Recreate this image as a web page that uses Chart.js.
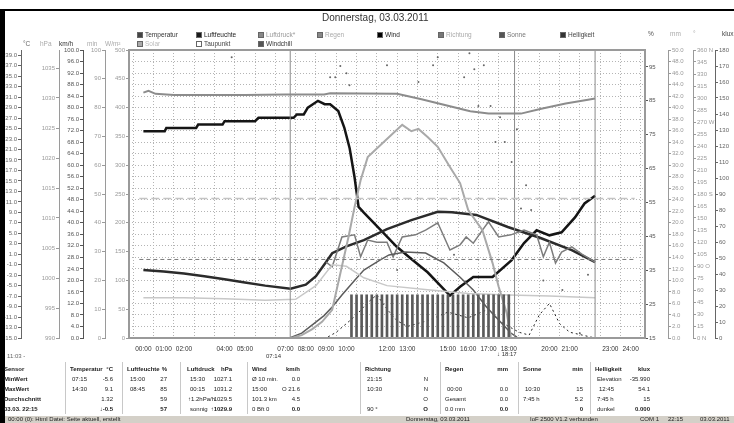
<!DOCTYPE html>
<html>
<head>
<meta charset="utf-8">
<script src="https://cdn.jsdelivr.net/npm/chart.js@4.4.1/dist/chart.umd.min.js"></script>
<style>
  body { margin: 0; width: 734px; height: 423px; overflow: hidden; background: #fff; position: relative;
         font-family: "Liberation Sans", Arial, sans-serif; }
  #chart { position: absolute; left: 0; top: 0; }
  .t { position: absolute; white-space: nowrap; font-size: 6px; line-height: 7px; color: #222; }
  .b { font-weight: bold; }
  .r { transform: translateX(-100%); }
  .sq { position: absolute; width: 6px; height: 6px; }
  .sep { position: absolute; width: 1px; background: #c8c8c8; top: 362px; height: 52px; }
</style>
</head>
<body>
<canvas id="chart" width="734" height="362"></canvas>
<div style="position:absolute;left:0;top:9px;width:734px;height:2px;background:#000"></div>
<div style="position:absolute;left:0;top:9px;width:5px;height:414px;background:#000"></div>
<div id="overlay"></div>
<script>
// ---- data (hours of day -> values) ----
const hourLabels = [0, 1, 2, 4, 5, 7, 8, 9, 10, 12, 13, 15, 16, 17, 18, 20, 21, 23, 24];
const gridHours = [0, 1, 2, 3, 4, 5, 6, 7, 8, 9, 10, 11, 12, 13, 14, 15, 16, 17, 18, 19, 20, 21, 22, 23, 24];

const tempHours = [0, 1, 2, 3, 4, 5, 6, 7.25, 8, 8.5, 9, 9.3, 10, 10.86, 12, 13.2, 14.5, 15.2, 16.4, 17.95, 19.56, 21.1, 22.25];
const tempValues = [-2.0, -2.3, -2.7, -3.2, -3.8, -4.4, -5.0, -5.6, -4.8, -3.2, -0.5, 1.2, 2.5, 3.7, 5.8, 7.5, 9.1, 9.0, 8.5, 6.2, 4.1, 1.8, -0.5];

const humHours = [0, 1.05, 1.13, 2.6, 2.7, 3.9, 4.0, 5.5, 5.67, 7.4, 7.56, 7.9, 8.1, 8.6, 8.93, 9.2, 9.6, 9.9, 10.16, 10.4, 10.6, 10.86, 11.67, 12.47, 13.2, 14.0, 15.1, 15.6, 16.25, 17.2, 18.14, 18.75, 19.37, 20.0, 20.6, 21.26, 21.73, 22.25];
const humValues = [76, 76, 77, 77, 78, 78, 79, 79, 80, 80, 81, 81, 83, 85, 84, 84, 82, 77, 71, 62.5, 53.7, 52, 47, 42, 38.3, 34.4, 27.5, 30.1, 33, 33, 38, 43, 46.8, 45.3, 46.2, 50.6, 54.7, 57];

const pressHours = [0, 0.25, 0.6, 1.5, 5, 7, 8.9, 9.2, 12.5, 13.7, 15, 16.1, 17, 18.6, 19.6, 20.8, 21.9, 22.25];
const pressValues = [1030.9, 1031.2, 1030.7, 1030.5, 1030.5, 1030.6, 1030.6, 1030.8, 1030.7, 1029.8, 1028.7, 1027.8, 1027.4, 1027.4, 1028.2, 1029.1, 1029.7, 1029.9];

const chillHours = [9.0, 9.3, 9.78, 10.4, 10.7, 11.05, 11.5, 12.0, 12.3, 12.75, 13.4, 13.9, 14.5, 15.1, 15.6, 15.9, 16.25, 16.7, 17.0, 17.5, 18.1, 18.75, 19.37, 19.7, 20.0, 20.3, 20.6, 21.1, 21.6, 22.25];
const chillValues = [-0.5, -1.4, 4.3, 4.7, 0.5, 3.7, 3.3, 3.3, 0.5, 4.3, 4.7, 5.6, 7.0, 1.8, 2.8, 4.3, 3.1, 5.6, 7.2, 4.3, 4.7, 5.6, 4.7, 0.5, 3.3, -0.7, 1.4, 2.4, 1.0, -0.5];

const dewHours = [0, 2, 4, 6, 7.5, 8.5, 9.3, 10, 10.86, 12, 14, 16, 18, 20, 22.25];
const dewValues = [-7.3, -7.3, -7.5, -7.8, -7.6, -5.0, -1.0, -1.3, -3.5, -5.0, -5.8, -6.5, -6.8, -7.0, -7.3];

const solarHours = [7.3, 7.8, 8.3, 8.8, 9.3, 10.1, 10.4, 10.7, 11.05, 11.8, 12.75, 13.2, 13.55, 14.0, 14.5, 15.1, 15.6, 16.0, 16.7, 17.2, 17.5, 17.9, 18.1];
const solarValues = [0, 5, 15, 28, 49, 175, 227, 274, 314, 339, 370, 359, 363, 349, 332, 297, 269, 222, 187, 130, 89, 43, 2];

const luxHours = [7.2, 7.8, 8.4, 8.9, 9.3, 9.78, 10.4, 10.86, 11.67, 12.1, 12.9, 13.9, 14.8, 15.6, 16.25, 16.9, 17.5, 18.1, 18.4];
const luxValues = [0, 3, 9, 14, 19.4, 26.9, 36, 42.5, 48.8, 51.9, 53.8, 53.1, 46.9, 38, 30, 19.4, 11.3, 3.1, 0.6];

const sunHours = [10.25, 10.5, 10.75, 11, 11.25, 11.5, 11.75, 12, 12.25, 12.5, 12.75, 13, 13.25, 13.5, 13.75, 14, 14.25, 14.5, 14.75, 15, 15.25, 15.5, 15.75, 16, 16.25, 16.5, 16.75, 17, 17.25, 17.5, 17.75, 18];
const sunMinutes = [15, 15, 15, 15, 15, 15, 15, 15, 15, 15, 15, 15, 15, 15, 15, 15, 15, 15, 15, 15, 15, 15, 15, 15, 15, 15, 15, 15, 15, 15, 15, 15];

const windHours = [0, 9, 9.5, 10, 10.5, 11, 11.5, 12, 12.5, 13, 14, 15, 16, 17, 17.5, 18, 18.5, 19, 19.5, 20, 20.5, 21, 22.25];
const windValues = [0, 0, 2, 5, 8, 12, 15, 10, 6, 4, 6, 9, 7, 10, 6, 4, 2, 1, 8, 12, 5, 2, 0];

const dirHours = [4.35, 9.2, 9.45, 9.7, 10.0, 10.15, 12.0, 12.5, 13.55, 14.27, 14.5, 15.3, 15.8, 16.06, 16.3, 16.5, 16.77, 17.1, 17.34, 17.57, 17.8, 18.14, 18.4, 18.6, 18.85, 19.1, 19.7, 20.64, 21.5, 21.9];
const dirValues = [351, 326, 326, 340, 331, 316, 341, 85, 320, 341, 351, 104, 326, 356, 336, 290, 341, 290, 245, 276, 245, 220, 261, 162, 191, 160, 72, 60, 6, 79];

const tempTicks = [-15, -13, -11, -9, -7, -5, -3, -1, 1, 3, 5, 7, 9, 11, 13, 15, 17, 19, 21, 23, 25, 27, 29, 31, 33, 35, 37, 39];
const hpaTicks = [990, 995, 1000, 1005, 1010, 1015, 1020, 1025, 1030, 1035];
const kmhTicks = [0, 4, 8, 12, 16, 20, 24, 28, 32, 36, 40, 44, 48, 52, 56, 60, 64, 68, 72, 76, 80, 84, 88, 92, 96, 100];
const minTicks = [0, 10, 20, 30, 40, 50, 60, 70, 80, 90, 100];
const wm2Ticks = [0, 50, 100, 150, 200, 250, 300, 350, 400, 450, 500];
const pctTicks = [15, 25, 35, 45, 55, 65, 75, 85, 95];
const mmTicks = [0, 2, 4, 6, 8, 10, 12, 14, 16, 18, 20, 22, 24, 26, 28, 30, 32, 34, 36, 38, 40, 42, 44, 46, 48, 50];
const degTicks = [0, 15, 30, 45, 60, 75, 90, 105, 120, 135, 150, 165, 180, 195, 210, 225, 240, 255, 270, 285, 300, 315, 330, 345, 360];
const degNames = { 0: 'N', 90: 'O', 180: 'S', 270: 'W', 360: 'N' };
const kluxTicks = [0, 10, 20, 30, 40, 50, 60, 70, 80, 90, 100, 110, 120, 130, 140, 150, 160, 170, 180];

const pressRef = 1013.25;
const frostRef = 0;
const sunrise = 7.233;
const sunset = 18.283;
const nowHour = 22.25;

// ---- helpers ----
const pts = (hs, vs) => hs.map((h, i) => ({ x: h, y: vs[i] }));
const hhmm = v => (v < 10 ? '0' : '') + v + ':00';
const FONT = { family: 'Liberation Sans', size: 6 };
const X_MIN = -0.2, X_MAX = 24.2;

function sideAxis(pos, weight, w, min, max, ticks, fmt, color) {
  return {
    type: 'linear', position: pos, weight, min, max,
    afterFit: s => { s.width = w; },
    afterBuildTicks: s => { s.ticks = ticks.map(v => ({ value: v })); },
    grid: { drawOnChartArea: false, tickLength: 3, color: color, tickColor: color },
    border: { display: true, color: color },
    ticks: { color, font: FONT, padding: 1, autoSkip: false, callback: fmt }
  };
}

const frame = {
  id: 'frame',
  afterDatasetsDraw(chart) {
    const { ctx, chartArea: a } = chart;
    ctx.save();
    ctx.strokeStyle = '#9a9a9a';
    ctx.lineWidth = 2;
    ctx.strokeRect(a.left, a.top, a.right - a.left, a.bottom - a.top);
    ctx.restore();
  }
};

const line = (label, hs, vs, axis, color, width, extra) => Object.assign({
  type: 'line', label, data: pts(hs, vs), yAxisID: axis, borderColor: color, backgroundColor: color,
  borderWidth: width, pointRadius: 0, tension: 0, fill: false
}, extra || {});

new Chart(document.getElementById('chart'), {
  type: 'line',
  data: {
    datasets: [
      line('ref hPa', [X_MIN, X_MAX], [pressRef, pressRef], 'hpa', '#c4c4c4', 1.5, { borderDash: [8, 4] }),
      line('ref 0C', [X_MIN, X_MAX], [frostRef, frostRef], 'temp', '#7a7a7a', 1, { borderDash: [4, 3] }),
      line('sunrise', [sunrise, sunrise], [0, 100], 'kmh', '#8a8a8a', 1),
      line('sunset', [sunset, sunset], [0, 100], 'kmh', '#8a8a8a', 1),
      line('now', [nowHour, nowHour], [0, 100], 'kmh', '#8a8a8a', 1),
      { type: 'bar', label: 'Sonne', data: pts(sunHours, sunMinutes), yAxisID: 'min', backgroundColor: '#5a5a5a', barThickness: 2 },
      line('Luftdruck*', pressHours, pressValues, 'hpa', '#8c8c8c', 2),
      line('Solar', solarHours, solarValues, 'wm2', '#a9a9a9', 2),
      line('Taupunkt', dewHours, dewValues, 'temp', '#c8c8c8', 1.5),
      line('Helligkeit', luxHours, luxValues, 'klux', '#5c5c5c', 1.5),
      line('Windchill', chillHours, chillValues, 'temp', '#7c7c7c', 1.5),
      line('Wind', windHours, windValues, 'kmh', '#222', 1, { borderDash: [2, 3] }),
      line('Richtung', dirHours, dirValues, 'deg', '#666', 0, { showLine: false, pointRadius: 1, pointBorderWidth: 0 }),
      line('Temperatur', tempHours, tempValues, 'temp', '#2b2b2b', 2.5),
      line('Luftfeuchte', humHours, humValues, 'pct', '#151515', 2.5)
    ]
  },
  options: {
    responsive: false, animation: false, devicePixelRatio: 1,
    layout: { padding: { top: 50, left: 0, right: 0, bottom: 0 } },
    plugins: { legend: { display: false }, tooltip: { enabled: false } },
    scales: {
      x: {
        type: 'linear', min: X_MIN, max: X_MAX, position: 'bottom',
        afterFit: s => { s.height = 24; },
        afterBuildTicks: s => { s.ticks = gridHours.map(v => ({ value: v })); },
        grid: { color: '#b4b4b4', drawTicks: false },
        border: { display: false, dash: [1, 2] },
        ticks: { color: '#333', font: { family: 'Liberation Sans', size: 6.5 }, padding: 7, autoSkip: false, maxRotation: 0,
                 callback: v => hourLabels.includes(v) ? hhmm(v) : '' }
      },
      gridY: {
        type: 'linear', position: 'left', weight: 0, min: 0, max: 100,
        afterFit: s => { s.width = 0; },
        afterBuildTicks: s => { s.ticks = kmhTicks.map(v => ({ value: v })); },
        grid: { color: '#b4b4b4', drawTicks: false },
        border: { display: false, dash: [1, 2] },
        ticks: { display: false }
      },
      wm2: sideAxis('left', 1, 24, 0, 500, wm2Ticks, v => v, '#9a9a9a'),
      min: sideAxis('left', 2, 22, 0, 100, minTicks, v => v, '#9a9a9a'),
      kmh: sideAxis('left', 3, 24, 0, 100, kmhTicks, v => v.toFixed(1), '#555'),
      hpa: sideAxis('left', 4, 38, 990, 1038, hpaTicks, v => v, '#9a9a9a'),
      temp: sideAxis('left', 5, 21, -15, 40, tempTicks, v => v.toFixed(1), '#666'),
      pct: sideAxis('right', 1, 23, 15, 100, pctTicks, v => v, '#555'),
      mm: sideAxis('right', 2, 25, 0, 50, mmTicks, v => v.toFixed(1), '#9a9a9a'),
      deg: sideAxis('right', 3, 22, 0, 360, degTicks, v => v + (degNames[v] ? ' ' + degNames[v] : ''), '#9a9a9a'),
      klux: sideAxis('right', 4, 19, 0, 180, kluxTicks, v => v, '#666')
    }
  },
  plugins: [frame]
});

// ---- html texts: title, legend, units, table, status bar ----
const legendItems = [
  ['Temperatur', 137, 31, '#444', '#333'], ['Luftfeuchte', 196, 31, '#1a1a1a', '#222'],
  ['Luftdruck*', 258, 31, '#888', '#999'], ['Regen', 317, 31, '#888', '#aaa'],
  ['Wind', 377, 31, '#000', '#222'], ['Richtung', 438, 31, '#777', '#aaa'],
  ['Sonne', 499, 31, '#555', '#777'], ['Helligkeit', 560, 31, '#333', '#444'],
  ['Solar', 137, 40, '#aaa', '#bbb'], ['Taupunkt', 196, 40, '#fff', '#444'],
  ['Windchill', 258, 40, '#555', '#333']
];
const units = [['°C', 23, 40, '#666'], ['hPa', 40, 40, '#aaa'], ['km/h', 59, 40, '#333'], ['min', 87, 40, '#aaa'],
  ['W/m²', 105, 40, '#aaa'], ['%', 648, 30, '#555'], ['mm', 670, 30, '#aaa'], ['°', 693, 30, '#aaa'], ['klux', 722, 30, '#444']];

const tableRows = [
  // [text, x, y, alignRight, bold, color]
  ['Sensor', 4, 366, 0, 1], ['Temperatur', 70, 366, 0, 1], ['°C', 113, 366, 1, 1], ['Luftfeuchte', 127, 366, 0, 1],
  ['%', 167, 366, 1, 1], ['Luftdruck', 187, 366, 0, 1], ['hPa', 232, 366, 1, 1], ['Wind', 252, 366, 0, 1],
  ['km/h', 300, 366, 1, 1], ['Richtung', 365, 366, 0, 1], ['Regen', 445, 366, 0, 1], ['mm', 508, 366, 1, 1],
  ['Sonne', 523, 366, 0, 1], ['min', 583, 366, 1, 1], ['Helligkeit', 595, 366, 0, 1], ['klux', 650, 366, 1, 1],
  ['MinWert', 4, 376, 0, 1], ['07:15', 72, 376], ['-5.6', 113, 376, 1], ['15:00', 130, 376], ['27', 167, 376, 1],
  ['15:30', 190, 376], ['1027.1', 232, 376, 1], ['Ø 10 min.', 252, 376], ['0.0', 300, 376, 1],
  ['21:15', 367, 376], ['N', 428, 376, 1], ['Elevation', 597, 376], ['-35.990', 650, 376, 1],
  ['MaxWert', 4, 386, 0, 1], ['14:30', 72, 386], ['9.1', 113, 386, 1], ['08:45', 130, 386], ['85', 167, 386, 1],
  ['00:15', 190, 386], ['1031.2', 232, 386, 1], ['15:00', 252, 386], ['O 21.6', 300, 386, 1],
  ['10:30', 367, 386], ['N', 428, 386, 1], ['00:00', 447, 386], ['0.0', 508, 386, 1],
  ['10:30', 525, 386], ['15', 583, 386, 1], ['12:45', 599, 386], ['54.1', 650, 386, 1],
  ['Durchschnitt', 4, 396, 0, 1], ['1.32', 113, 396, 1], ['59', 167, 396, 1], ['↑1.2hPa/h', 188, 396],
  ['1029.5', 232, 396, 1], ['101.3 km', 252, 396], ['4.5', 300, 396, 1], ['O', 428, 396, 1],
  ['Gesamt', 445, 396], ['0.0', 508, 396, 1], ['7:45 h', 523, 396], ['5.2', 583, 396, 1],
  ['7:45 h', 597, 396], ['15', 650, 396, 1],
  ['03.03. 22:15', 4, 406, 0, 1], ['↓-0.5', 113, 406, 1, 1], ['57', 167, 406, 1, 1], ['sonnig', 190, 406],
  ['↑1029.9', 232, 406, 1, 1], ['0 Bft 0', 252, 406], ['0.0', 300, 406, 1, 1], ['90 °', 367, 406],
  ['O', 428, 406, 1, 1], ['0.0 mm', 445, 406], ['0.0', 508, 406, 1, 1], ['0', 583, 406, 1, 1],
  ['dunkel', 597, 406], ['0.000', 650, 406, 1, 1],
  ['11:03 -', 7, 353, 0, 0, '#666'], ['07:14', 266, 353, 0, 0, '#333'], ['↓ 18:17', 497, 351, 0, 0, '#333']
];
const tableSeps = [65, 122, 180, 247, 360, 440, 518, 590];

const ov = document.getElementById('overlay');
function put(text, x, y, right, bold, color, size) {
  const d = document.createElement('div');
  d.className = 't' + (right ? ' r' : '') + (bold ? ' b' : '');
  d.style.left = x + 'px'; d.style.top = y + 'px';
  if (color) d.style.color = color;
  if (size) { d.style.fontSize = size + 'px'; d.style.lineHeight = (size + 2) + 'px'; }
  d.textContent = text;
  ov.appendChild(d);
}
put('Donnerstag, 03.03.2011', 322, 12, 0, 0, '#333', 10);
legendItems.forEach(([t, x, y, sq, tc]) => {
  const s = document.createElement('div');
  s.className = 'sq';
  s.style.left = x + 'px'; s.style.top = (y + 0.5) + 'px'; s.style.background = sq;
  s.style.border = '1px solid #666'; s.style.boxSizing = 'border-box';
  ov.appendChild(s);
  put(t, x + 8, y, 0, 0, tc, 6.5);
});
units.forEach(([t, x, y, c]) => put(t, x, y, 0, 0, c, 6.5));
tableSeps.forEach(x => {
  const s = document.createElement('div');
  s.className = 'sep'; s.style.left = x + 'px';
  ov.appendChild(s);
});
tableRows.forEach(([t, x, y, r, b, c]) => put(t, x, y, r, b, c || '#222'));

const bar = document.createElement('div');
bar.style.cssText = 'position:absolute;left:5px;top:415px;width:729px;height:8px;background:#d4d0c8;border-top:1px solid #fff';
ov.appendChild(bar);
[['00:00 (0): Html Datei: Seite aktuell, erstellt', 8], ['Donnerstag, 03.03.2011', 406], ['IoF 2500 V1.2 verbunden', 530],
 ['COM 1', 640], ['22:15', 668], ['03.03.2011', 700]].forEach(([t, x]) => put(t, x, 416, 0, 0, '#222'));
</script>
</body>
</html>
